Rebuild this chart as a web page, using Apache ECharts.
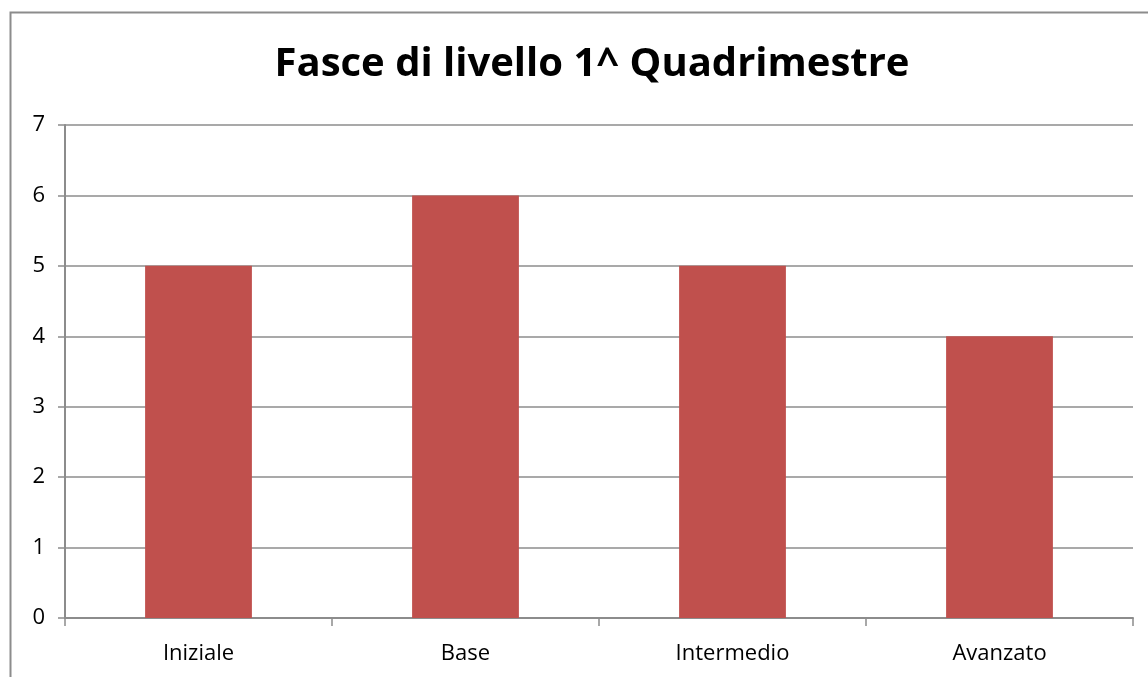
<!DOCTYPE html>
<html><head><meta charset="utf-8">
<script src="https://cdn.jsdelivr.net/npm/echarts@6/dist/echarts.min.js"></script>
<style>html,body{margin:0;padding:0;background:#fff}#c{width:1148px;height:677px}</style>
</head><body><div id="c"></div>
<script>
const categories = ['Iniziale', 'Base', 'Intermedio', 'Avanzato'];
const values = [5, 6, 5, 4];
const yTicks = [0, 1, 2, 3, 4, 5, 6, 7];
const chart = echarts.init(document.getElementById('c'));
chart.setOption({
  animation: false,
  backgroundColor: '#fff',
  title: {
    text: 'Fasce di livello 1^ Quadrimestre',
    left: 587, top: 40, textAlign: 'center',
    textStyle: { fontFamily: 'Open Sans', fontWeight: 'bold', fontSize: 40, color: '#000' }
  },
  graphic: [{
    type: 'rect', shape: { x: 10.5, y: 12.5, width: 1160, height: 700 },
    style: { fill: 'none', stroke: '#8c8c8c', lineWidth: 2 }, silent: true
  }],
  grid: { left: 65, right: 15, top: 125, bottom: 59 },
  xAxis: {
    type: 'category', data: categories,
    axisLine: { lineStyle: { color: '#8c8c8c', width: 2 } },
    axisTick: { show: true, alignWithLabel: false, length: 8, lineStyle: { color: '#8c8c8c', width: 1.5 } },
    axisLabel: { color: '#000', fontSize: 22, fontFamily: 'Open Sans', margin: 25 }
  },
  yAxis: {
    type: 'value', min: yTicks[0], max: yTicks[yTicks.length - 1], interval: 1,
    axisLine: { show: true, lineStyle: { color: '#8c8c8c', width: 2 } },
    axisTick: { show: true, length: 7, lineStyle: { color: '#8c8c8c', width: 1.5 } },
    splitLine: { lineStyle: { color: '#8c8c8c', width: 1.5 } },
    axisLabel: { color: '#000', fontSize: 22, fontFamily: 'Open Sans', margin: 20 }
  },
  series: [{
    type: 'bar', data: values, barWidth: '40%',
    itemStyle: { color: '#C0504D' }
  }]
});
</script></body></html>
